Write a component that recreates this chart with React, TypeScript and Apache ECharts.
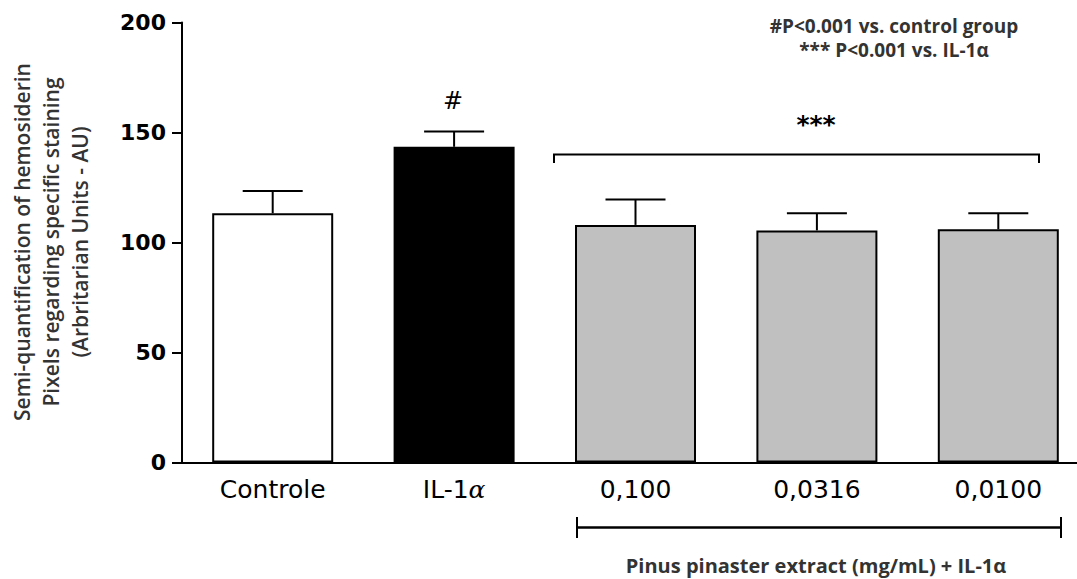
import React, { useEffect, useRef } from "react";
import * as echarts from "echarts";

const categories = ["Controle", "IL-1α", "0,100", "0,0316", "0,0100"];
const means = [113.3, 143.5, 108.0, 105.5, 106.0];
const upper = [123.4, 150.4, 119.5, 113.3, 113.3];
const barColors = ["#ffffff", "#000000", "#c0c0c0", "#c0c0c0", "#c0c0c0"];
const yTicks = [0, 50, 100, 150, 200];
const yTitle = [
  "Semi-quantification of hemosiderin",
  "Pixels regarding specific staining",
  "(Arbritarian Units - AU)",
];
const notes = ["#P<0.001 vs. control group", "*** P<0.001 vs. IL-1α"];
const groupLabel = "Pinus pinaster extract (mg/mL) + IL-1α";

export default function App() {
  const ref = useRef<HTMLDivElement>(null);
  useEffect(() => {
    if (!ref.current) return;
    const chart = echarts.init(ref.current, null, { renderer: "svg" });
    const sansTitle = "'Open Sans', 'Noto Sans', sans-serif";
    chart.setOption({
      animation: false,
      backgroundColor: "#ffffff",
      grid: { left: 182, right: 0, top: 22.5, bottom: 116.5, containLabel: false },
      xAxis: {
        type: "category",
        data: categories,
        axisLine: { lineStyle: { color: "#000", width: 2 } },
        axisTick: { alignWithLabel: true, length: 10, lineStyle: { color: "#000", width: 2 } },
        axisLabel: {
          interval: 0,
          margin: 14,
          color: "#000",
          fontFamily: "'DejaVu Sans', sans-serif",
          fontSize: 25,
          formatter: (v: string) => (v === "IL-1α" ? "{n|IL-1}{a|α}" : v),
          rich: {
            n: { fontFamily: "'DejaVu Sans', sans-serif", fontSize: 25, color: "#000" },
            a: { fontFamily: "'DejaVu Serif', serif", fontStyle: "italic", fontSize: 25, color: "#000" },
          },
        },
      },
      yAxis: {
        type: "value",
        min: yTicks[0],
        max: yTicks[yTicks.length - 1],
        interval: 50,
        splitLine: { show: false },
        axisLine: { show: true, lineStyle: { color: "#000", width: 2 } },
        axisTick: { show: true, length: 10, lineStyle: { color: "#000", width: 2 } },
        axisLabel: {
          margin: 16,
          color: "#000",
          fontFamily: "'DejaVu Sans', sans-serif",
          fontWeight: "bold",
          fontSize: 22,
        },
      },
      series: [
        {
          type: "bar",
          barWidth: 121,
          data: means.map((v, i) => ({
            value: v,
            itemStyle: { color: barColors[i], borderColor: "#000", borderWidth: 2 },
          })),
          z: 2,
        },
        {
          type: "custom",
          z: 3,
          data: means.map((m, i) => [i, m, upper[i]]),
          renderItem: (params: any, api: any) => {
            const p0 = api.coord([api.value(0), api.value(1)]);
            const p1 = api.coord([api.value(0), api.value(2)]);
            const st = { stroke: "#000", lineWidth: 2 };
            return {
              type: "group",
              children: [
                { type: "line", shape: { x1: p0[0], y1: p0[1], x2: p1[0], y2: p1[1] }, style: st },
                { type: "line", shape: { x1: p1[0] - 30, y1: p1[1], x2: p1[0] + 30, y2: p1[1] }, style: st },
              ],
            };
          },
        },
      ],
      graphic: [
        {
          type: "text",
          x: 51,
          y: 242,
          rotation: Math.PI / 2,
          style: {
            text: yTitle.join("\n"),
            fontFamily: sansTitle,
            fontWeight: 600,
            fontSize: 21,
            lineHeight: 29,
            fill: "#333",
            align: "center",
            verticalAlign: "middle",
          },
        },
        {
          type: "text",
          x: 894,
          y: 38,
          style: {
            text: notes.join("\n"),
            fontFamily: sansTitle,
            fontWeight: "bold",
            fontSize: 19,
            lineHeight: 24,
            fill: "#333",
            align: "center",
            verticalAlign: "middle",
          },
        },
        {
          type: "text",
          x: 453,
          y: 101,
          style: {
            text: "#",
            fontFamily: "'DejaVu Sans', sans-serif",
            fontSize: 24,
            fill: "#000",
            align: "center",
            verticalAlign: "middle",
          },
        },
        {
          type: "text",
          x: 816,
          y: 124,
          style: {
            text: "***",
            fontFamily: "'DejaVu Sans', sans-serif",
            fontWeight: "bold",
            fontSize: 25,
            fill: "#000",
            align: "center",
            verticalAlign: "middle",
          },
        },
        {
          type: "polyline",
          shape: { points: [[554, 163], [554, 154.5], [1039, 154.5], [1039, 163]] },
          style: { stroke: "#000", lineWidth: 2, fill: null },
        },
        {
          type: "line",
          shape: { x1: 577, y1: 527.5, x2: 1061, y2: 527.5 },
          style: { stroke: "#000", lineWidth: 2.5 },
        },
        {
          type: "line",
          shape: { x1: 577, y1: 517, x2: 577, y2: 538 },
          style: { stroke: "#000", lineWidth: 2 },
        },
        {
          type: "line",
          shape: { x1: 1061, y1: 517, x2: 1061, y2: 538 },
          style: { stroke: "#000", lineWidth: 2 },
        },
        {
          type: "text",
          x: 816,
          y: 565,
          style: {
            text: groupLabel,
            fontFamily: sansTitle,
            fontWeight: "bold",
            fontSize: 20,
            fill: "#333",
            align: "center",
            verticalAlign: "middle",
          },
        },
      ],
    });
    return () => chart.dispose();
  }, []);
  return (
    <div
      ref={ref}
      style={{ position: "fixed", left: 0, top: 0, width: "1089px", height: "579px", background: "#fff" }}
    />
  );
}
